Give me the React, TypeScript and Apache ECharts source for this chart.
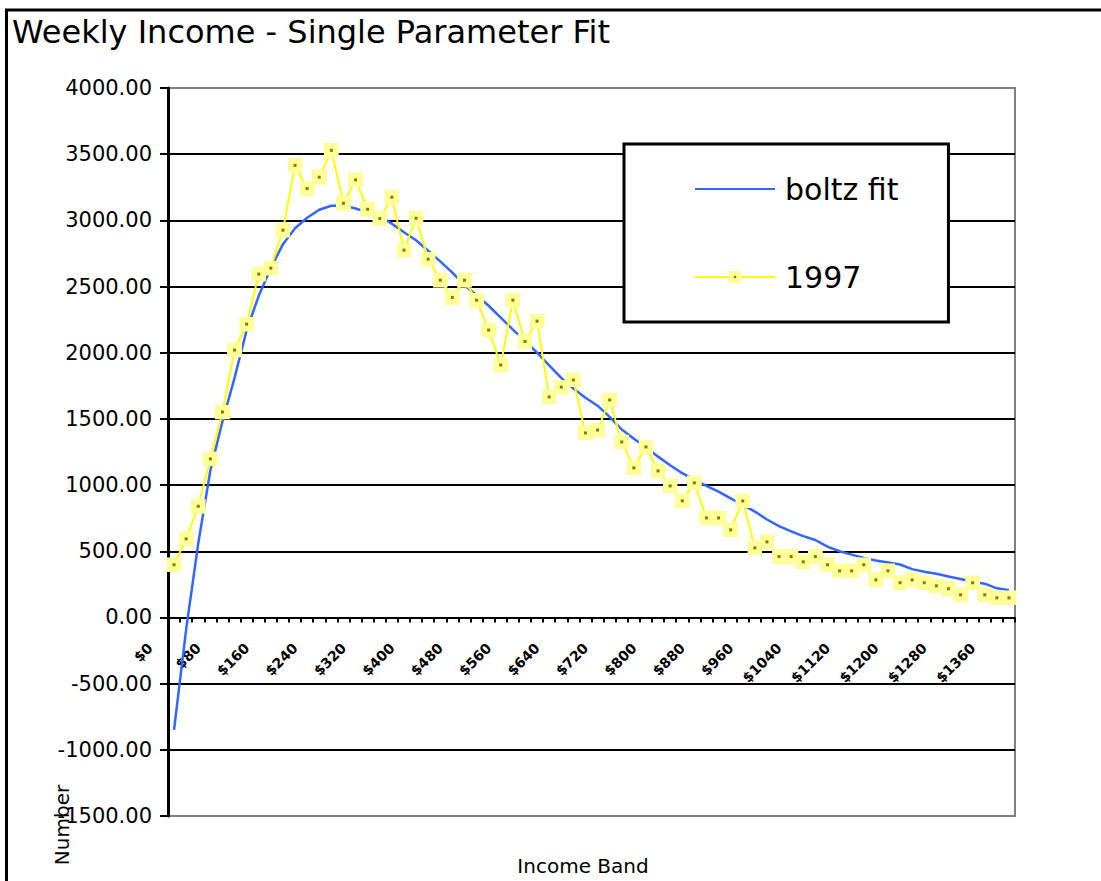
import React, { useEffect, useRef } from "react";
import * as echarts from "echarts";

const incomeBands: string[] = [
  "$0", "$20", "$40", "$60", "$80", "$100", "$120", "$140", "$160", "$180",
  "$200", "$220", "$240", "$260", "$280", "$300", "$320", "$340", "$360", "$380",
  "$400", "$420", "$440", "$460", "$480", "$500", "$520", "$540", "$560", "$580",
  "$600", "$620", "$640", "$660", "$680", "$700", "$720", "$740", "$760", "$780",
  "$800", "$820", "$840", "$860", "$880", "$900", "$920", "$940", "$960", "$980",
  "$1000", "$1020", "$1040", "$1060", "$1080", "$1100", "$1120", "$1140", "$1160", "$1180",
  "$1200", "$1220", "$1240", "$1260", "$1280", "$1300", "$1320", "$1340", "$1360", "$1380",
];

const boltzFit: number[] = [
  -850, -90, 560, 1110, 1480, 1810, 2170, 2430, 2640, 2820,
  2940, 3020, 3080, 3110, 3112, 3090, 3060, 3030, 2975, 2910,
  2850, 2770, 2690, 2605, 2510, 2435, 2355, 2265, 2175, 2090,
  2000, 1905, 1810, 1730, 1660, 1600, 1515, 1420, 1350, 1285,
  1215, 1150, 1090, 1040, 994, 950, 900, 850, 800, 740,
  690, 650, 614, 585, 535, 500, 475, 450, 430, 415,
  400, 365, 345, 330, 310, 290, 270, 255, 220, 205,
];

const year1997: number[] = [
  398, 594, 840, 1198, 1552, 2020, 2216, 2594, 2639, 2926,
  3416, 3240, 3326, 3529, 3129, 3306, 3084, 3014, 3175, 2775,
  3016, 2707, 2548, 2418, 2548, 2397, 2171, 1907, 2397, 2085,
  2239, 1666, 1740, 1794, 1394, 1416, 1643, 1326, 1130, 1288,
  1107, 994, 881, 1017, 752, 752, 662, 880, 526, 571,
  460, 460, 420, 460, 398, 352, 352, 398, 284, 352,
  262, 284, 262, 239, 217, 171, 262, 171, 148, 148,
];

const yMin = -1500;
const yMax = 4000;
const yStep = 500;

const FONT = "DejaVu Sans";

const GRID_TOP = 88;
const GRID_BOTTOM = 65;
const CHART_H = 881;

const markerSvg =
  '<svg xmlns="http://www.w3.org/2000/svg" width="15" height="15">' +
  '<rect width="15" height="15" fill="#FFFF99"/>' +
  '<rect x="6" y="6" width="3" height="3" fill="#808000"/></svg>';
const markerSymbol =
  "image://data:image/svg+xml;charset=utf-8," + encodeURIComponent(markerSvg);

export default function App() {
  const ref = useRef<HTMLDivElement>(null);

  useEffect(() => {
    if (!ref.current) return;
    const chart = echarts.init(ref.current, null, { renderer: "svg" });
    // distance from the grid bottom up to the zero line, so the category axis sits on y = 0
    const gridH = CHART_H - GRID_TOP - GRID_BOTTOM;
    const zeroOffset = ((0 - yMin) / (yMax - yMin)) * gridH;
    chart.setOption({
      animation: false,
      backgroundColor: "#ffffff",
      title: {
        text: "Weekly Income - Single Parameter Fit",
        left: 12,
        top: 16,
        padding: 0,
        textStyle: {
          fontFamily: FONT,
          fontSize: 32,
          fontWeight: "normal",
          color: "#000",
        },
      },
      legend: {
        data: [
          { name: "boltz fit", itemStyle: { opacity: 0 } },
          { name: "1997" },
        ],
        orient: "vertical",
        left: 624,
        top: 144,
        padding: [30, 50, 30, 70],
        itemGap: 58,
        itemWidth: 80,
        itemHeight: 15,
        align: "left",
        backgroundColor: "#ffffff",
        borderColor: "#000",
        borderWidth: 3,
        borderRadius: 0,
        textStyle: {
          fontFamily: FONT,
          fontSize: 30,
          color: "#000",
          padding: [0, 0, 0, 5],
        },
      },
      grid: {
        left: 168,
        right: 86,
        top: GRID_TOP,
        bottom: GRID_BOTTOM,
        show: true,
        borderColor: "#808080",
        borderWidth: 2,
        backgroundColor: "#ffffff",
      },
      xAxis: {
        type: "category",
        data: incomeBands,
        boundaryGap: true,
        offset: -zeroOffset,
        axisLine: { show: true, onZero: false, lineStyle: { color: "#000", width: 2 } },
        axisTick: { show: true, interval: 0, length: 5, lineStyle: { color: "#000", width: 2 } },
        axisLabel: {
          interval: 3,
          rotate: 45,
          fontFamily: FONT,
          fontSize: 14,
          fontWeight: "bold",
          color: "#000",
          margin: 4,
          padding: [0, 34, 0, 0],
        },
        splitLine: { show: false },
      },
      yAxis: {
        type: "value",
        min: yMin,
        max: yMax,
        interval: yStep,
        axisLine: { show: true, lineStyle: { color: "#000", width: 3 } },
        axisTick: { show: true, length: 8, lineStyle: { color: "#000", width: 2 } },
        axisLabel: {
          formatter: (v: number) => v.toFixed(2),
          fontFamily: FONT,
          fontSize: 21,
          color: "#000",
          margin: 16,
        },
        splitLine: {
          show: true,
          showMinLine: false,
          showMaxLine: false,
          lineStyle: { color: "#000", width: 2 },
        },
      },
      graphic: [
        {
          type: "rect",
          silent: true,
          z: 100,
          shape: { x: 6.5, y: 10, width: 1100, height: 880 },
          style: { fill: "none", stroke: "#000", lineWidth: 3 },
        },
        {
          type: "text",
          z: 100,
          x: 62,
          y: 825,
          rotation: Math.PI / 2,
          style: {
            text: "Number",
            fontFamily: FONT,
            fontSize: 20,
            fill: "#000",
            align: "center",
            verticalAlign: "middle",
          },
        },
        {
          type: "text",
          z: 100,
          x: 583,
          y: 866,
          style: {
            text: "Income Band",
            fontFamily: FONT,
            fontSize: 20,
            fill: "#000",
            align: "center",
            verticalAlign: "middle",
          },
        },
      ],
      series: [
        {
          name: "boltz fit",
          type: "line",
          data: boltzFit,
          symbol: "none",
          color: "#3366FF",
          lineStyle: { color: "#3366FF", width: 2.5 },
          z: 2,
        },
        {
          name: "1997",
          type: "line",
          data: year1997,
          symbol: markerSymbol,
          symbolSize: 15,
          showAllSymbol: true,
          color: "#FFFF00",
          lineStyle: { color: "#FFFF00", width: 2 },
          z: 3,
        },
      ],
    });
    return () => chart.dispose();
  }, []);

  return (
    <div
      ref={ref}
      style={{
        position: "fixed",
        left: 0,
        top: 0,
        width: 1101,
        height: 881,
        background: "#ffffff",
      }}
    />
  );
}
